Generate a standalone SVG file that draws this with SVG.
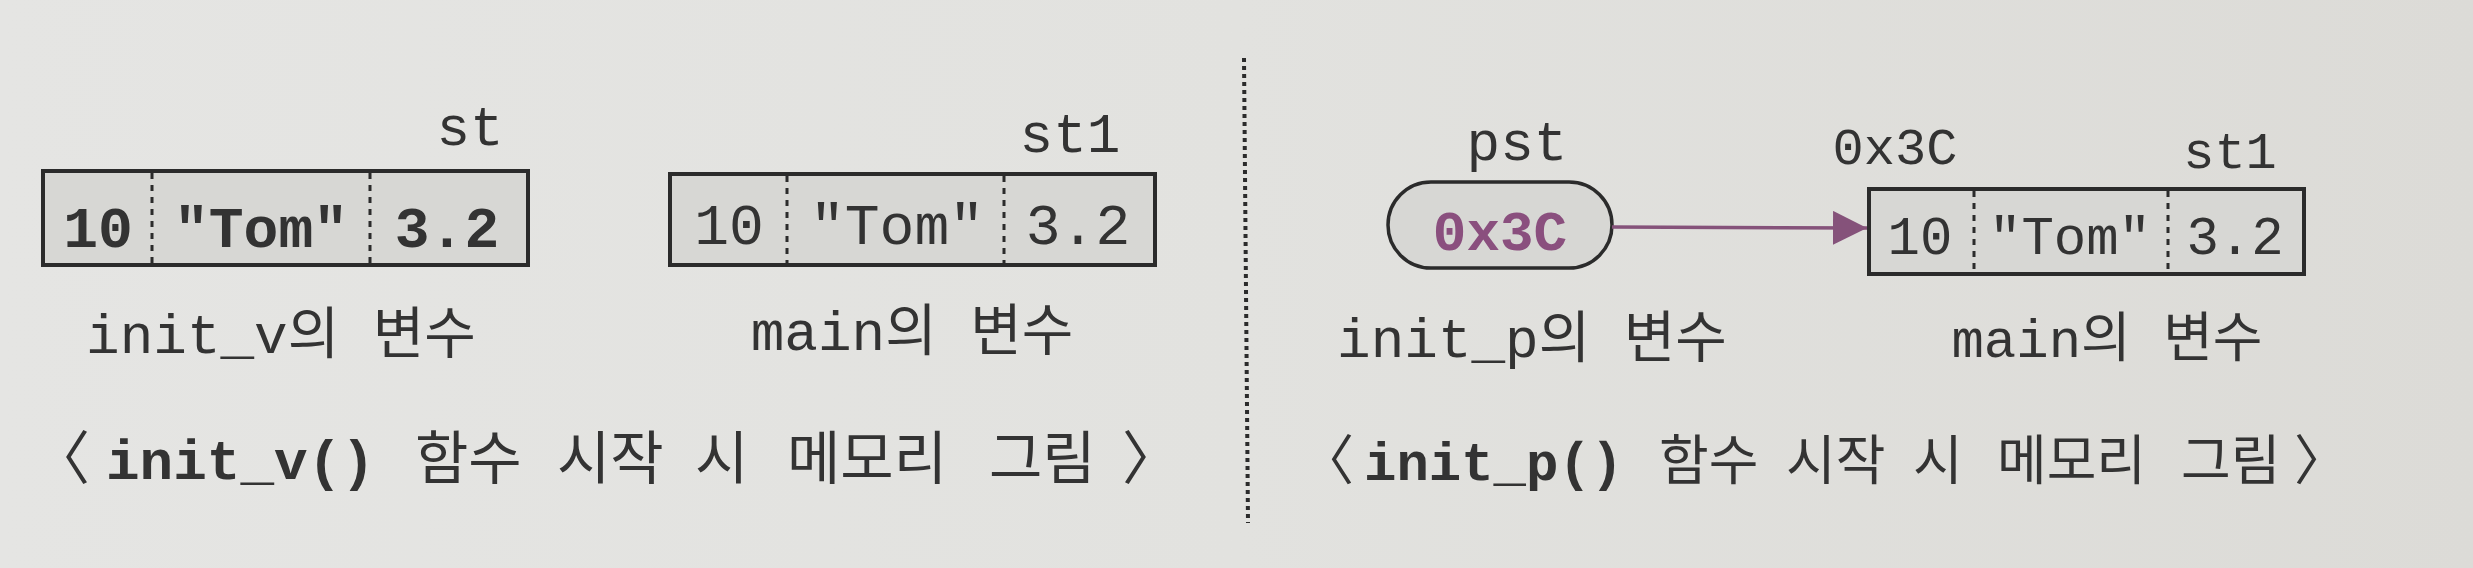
<svg xmlns="http://www.w3.org/2000/svg" width="2473" height="568" viewBox="0 0 2473 568">
  <defs>
    <linearGradient id="bg" x1="0" y1="0" x2="1" y2="0">
      <stop offset="0" stop-color="#e5e5e3"/>
      <stop offset="0.5" stop-color="#e2e2df"/>
      <stop offset="1" stop-color="#dcdbd7"/>
    </linearGradient>
    <marker id="arrow" markerWidth="34" markerHeight="34" refX="34" refY="17" orient="auto" markerUnits="userSpaceOnUse">
      <path d="M0,0 L34,17 L0,34 Z" fill="#85527a"/>
    </marker>
    <style>
      .mono { font-family: "Liberation Mono", "Noto Sans CJK KR", monospace; fill: #333; }
      .bold { font-weight: bold; }
      .kr { font-family: "Noto Sans CJK KR", "Liberation Sans", sans-serif; fill: #333; }
      .box { fill: #d7d7d4; stroke: #2b2b2b; stroke-width: 4; }
      .div { stroke: #2b2b2b; stroke-width: 3; stroke-dasharray: 6 6; fill: none; }
      .mid { text-anchor: middle; }
    </style>
  </defs>
  <rect x="0" y="0" width="2473" height="568" fill="url(#bg)"/>

  <!-- Left panel -->
  <g id="st-node">
    <text class="mono mid" x="470" y="145" font-size="56">st</text>
    <rect class="box" x="43" y="171" width="485" height="94"/>
    <line class="div" x1="152" y1="173" x2="152" y2="263"/>
    <line class="div" x1="370" y1="173" x2="370" y2="263"/>
    <text class="mono bold mid" x="98" y="247" font-size="58">10</text>
    <text class="mono bold mid" x="261" y="247" font-size="58">"Tom"</text>
    <text class="mono bold mid" x="447" y="247" font-size="58">3.2</text>
    <text class="mono mid" x="281" y="353" font-size="56">init_v의 변수</text>
  </g>

  <g id="st1-main-left">
    <text class="mono mid" x="1070" y="152" font-size="56">st1</text>
    <rect class="box" x="670" y="174" width="485" height="91"/>
    <line class="div" x1="787" y1="176" x2="787" y2="263"/>
    <line class="div" x1="1004" y1="176" x2="1004" y2="263"/>
    <text class="mono mid" x="729" y="244" font-size="58">10</text>
    <text class="mono mid" x="897" y="244" font-size="58">"Tom"</text>
    <text class="mono mid" x="1078" y="244" font-size="58">3.2</text>
    <text class="mono mid" x="912" y="350" font-size="56">main의 변수</text>
  </g>

  <g id="caption-left">
    <text x="0" y="479" font-size="58"><tspan class="kr" x="32">〈</tspan><tspan class="mono bold" x="106" font-size="56">init_v()</tspan><tspan class="kr" x="415">함수</tspan><tspan class="kr" x="557">시작</tspan><tspan class="kr" x="695">시</tspan><tspan class="kr" x="787">메모리</tspan><tspan class="kr" x="989">그림</tspan><tspan class="kr" x="1122">〉</tspan></text>
  </g>

  <g id="separator">
    <line x1="1244" y1="58" x2="1248" y2="523" stroke="#2b2b2b" stroke-width="4" stroke-dasharray="4 4"/>
  </g>

  <!-- Right panel -->
  <g id="pst-node">
    <text class="mono mid" x="1517" y="160" font-size="56">pst</text>
    <rect x="1388" y="182" width="224" height="86" rx="43" ry="43" fill="#d7d7d4" stroke="#2b2b2b" stroke-width="3.5"/>
    <text class="mono bold mid" x="1500" y="250" font-size="56" style="fill:#8a4f7e">0x3C</text>
    <text class="mono mid" x="1532" y="357" font-size="56">init_p의 변수</text>
  </g>

  <g id="st1-main-right">
    <text class="mono mid" x="1895" y="164" font-size="52">0x3C</text>
    <text class="mono mid" x="2230" y="168" font-size="52">st1</text>
    <rect class="box" x="1869" y="189" width="435" height="85"/>
    <line class="div" x1="1974" y1="191" x2="1974" y2="272"/>
    <line class="div" x1="2168" y1="191" x2="2168" y2="272"/>
    <text class="mono mid" x="1920" y="254" font-size="54">10</text>
    <text class="mono mid" x="2070" y="254" font-size="54">"Tom"</text>
    <text class="mono mid" x="2235" y="254" font-size="54">3.2</text>
    <text class="mono mid" x="2107" y="357" font-size="54">main의 변수</text>
  </g>

  <g id="connectors">
    <line x1="1612" y1="227" x2="1867" y2="228" stroke="#85527a" stroke-width="3.5" marker-end="url(#arrow)"/>
  </g>

  <g id="caption-right">
    <text x="0" y="480" font-size="54"><tspan class="kr" x="1300">〈</tspan><tspan class="mono bold" x="1364">init_p()</tspan><tspan class="kr" x="1659">함수</tspan><tspan class="kr" x="1786">시작</tspan><tspan class="kr" x="1913">시</tspan><tspan class="kr" x="1997">메모리</tspan><tspan class="kr" x="2181">그림</tspan><tspan class="kr" x="2294">〉</tspan></text>
  </g>
</svg>
